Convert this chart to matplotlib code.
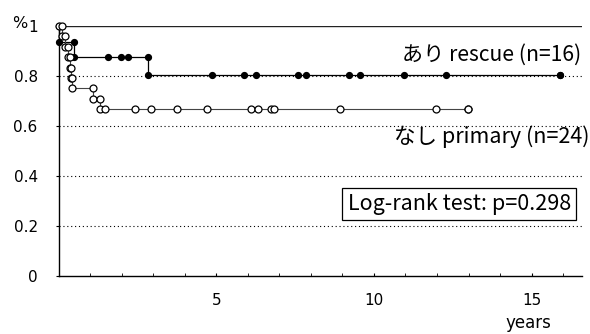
import matplotlib
matplotlib.use("Agg")
import matplotlib.pyplot as plt

plt.rcParams['font.family'] = ['Noto Sans CJK JP', 'DejaVu Sans']

# あり rescue (n=16): event times (years) and survival after each event
rescue_event_t = [0.02, 0.50, 2.84]
rescue_event_s = [0.9375, 0.875, 0.802]
rescue_cens_t = [1.57, 1.97, 2.21, 4.86, 5.89, 6.27, 7.60, 7.86, 9.22, 9.57, 10.94, 12.30, 15.89]
rescue_cens_s = [0.875, 0.875, 0.875, 0.802, 0.802, 0.802, 0.802, 0.802, 0.802, 0.802, 0.802, 0.802, 0.802]

# なし primary (n=24)
primary_event_t = [0.11, 0.21, 0.30, 0.37, 0.40, 0.44, 1.10, 1.32]
primary_event_s = [0.958, 0.917, 0.875, 0.833, 0.792, 0.750, 0.708, 0.667]
primary_cens_t = [1.48, 2.43, 2.94, 3.76, 4.71, 6.11, 6.33, 6.75, 6.84, 8.94, 11.98, 12.99]
primary_cens_s = [0.667, 0.667, 0.667, 0.667, 0.667, 0.667, 0.667, 0.667, 0.667, 0.667, 0.667, 0.667]

y_ticks = [0, 0.2, 0.4, 0.6, 0.8, 1]
y_labels = ['0', '0.2', '0.4', '0.6', '0.8', '1']
x_ticks = [5, 10, 15]


def step_vertices(event_t, event_s, t_end):
    xs, ys = [0], [1.0]
    prev = 1.0
    for t, s in zip(event_t, event_s):
        xs += [t, t]
        ys += [prev, s]
        prev = s
    xs.append(t_end)
    ys.append(prev)
    return xs, ys


fig = plt.figure(figsize=(5.9, 3.34), dpi=100)
ax = fig.add_axes([0.0992, 0.1737, 0.8873, 0.7485])

# grid lines
for y in y_ticks[1:-1]:
    ax.axhline(y, color='black', lw=0.8, ls=(0, (1, 2.5)), zorder=1)
ax.axhline(1.0, color='#222222', lw=1.0, zorder=1)

# rescue curve (filled markers)
rx, ry = step_vertices(rescue_event_t, rescue_event_s, rescue_cens_t[-1])
ax.plot(rx, ry, color='black', lw=0.9, marker='o', ms=4.2, mfc='black', mec='black',
        zorder=3, clip_on=False)
ax.plot(rescue_cens_t, rescue_cens_s, ls='none', marker='o', ms=4.2, mfc='black', mec='black',
        zorder=3, clip_on=False)

# primary curve (open markers)
px, py = step_vertices(primary_event_t, primary_event_s, primary_cens_t[-1])
ax.plot(px, py, color='#444444', lw=0.8, marker='o', ms=5, mfc='white', mec='black', mew=0.9,
        zorder=4, clip_on=False)
ax.plot(primary_cens_t, primary_cens_s, ls='none', marker='o', ms=5, mfc='white', mec='black',
        mew=0.9, zorder=4, clip_on=False)

ax.set_xlim(0, 16.6)
ax.set_ylim(0, 1)
for side in ['top', 'right']:
    ax.spines[side].set_visible(False)
ax.spines['left'].set_linewidth(1.0)
ax.spines['bottom'].set_linewidth(1.0)

tick_font = dict(family='DejaVu Sans', size=11)
ax.set_yticks(y_ticks)
ax.set_yticklabels(y_labels, **tick_font)
ax.tick_params(axis='y', direction='out', length=2.5, pad=12.5)
ax.set_xticks(x_ticks)
ax.set_xticklabels([str(v) for v in x_ticks], **tick_font)
ax.set_xticks(range(1, 17), minor=True)
ax.tick_params(axis='x', which='both', direction='in', length=2.5, pad=12.5)

# "%" sits just left of the top tick label "1"
ax.text(27, 310, '%', transform=None, family='DejaVu Sans', fontsize=11.5, ha='right', va='center')

ax.text(16.56, 0.884, 'あり rescue (n=16)', fontsize=15.2, ha='right', va='center')
ax.text(16.85, 0.556, 'なし primary (n=24)', fontsize=15.5, ha='right', va='center', clip_on=False)
ax.text(12.71, 0.288, 'Log-rank test: p=0.298', fontsize=15.5, ha='center', va='center',
        bbox=dict(boxstyle='square,pad=0.25', fc='white', ec='black', lw=0.9), zorder=5)
ax.text(14.9, -0.19, 'years', family='DejaVu Sans', fontsize=12, ha='center', va='center',
        clip_on=False)

fig.savefig('out.png', dpi=100)
